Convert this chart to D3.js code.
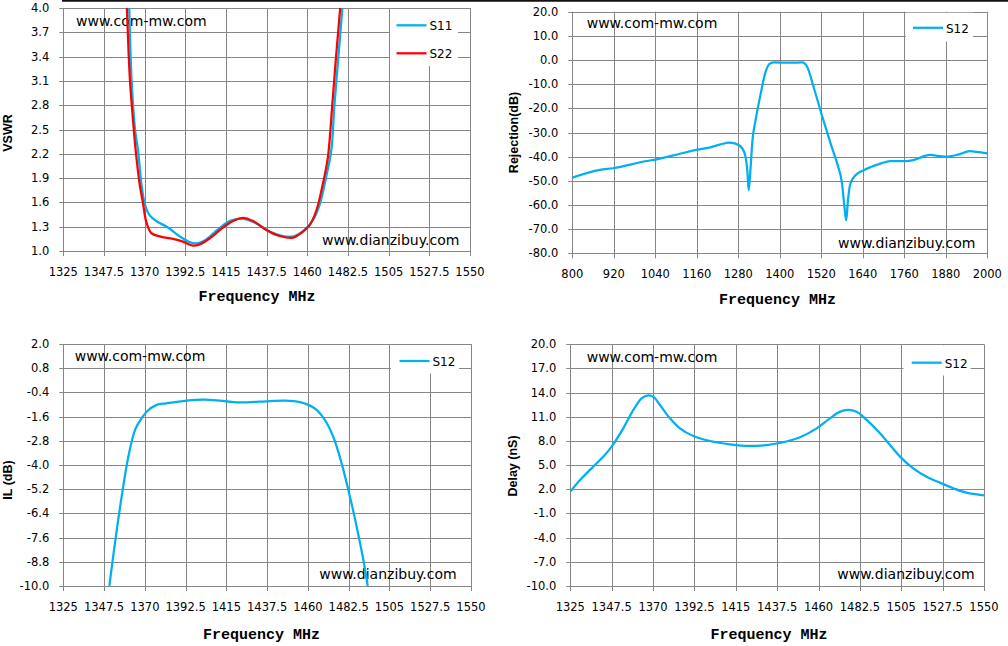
<!DOCTYPE html>
<html>
<head>
<meta charset="utf-8">
<script src="https://cdn.jsdelivr.net/npm/d3@7/dist/d3.min.js"></script>
<style>
  html, body { margin: 0; padding: 0; background: #fff; }
  svg { display: block; }
</style>
</head>
<body>
<div id="chart"></div>
<script>
// ---- data ----
const bandTicks = [1325, 1347.5, 1370, 1392.5, 1415, 1437.5, 1460, 1482.5, 1505, 1527.5, 1550];
const wideTicks = [800, 920, 1040, 1160, 1280, 1400, 1520, 1640, 1760, 1880, 2000];
const vswrTicks = [1.0, 1.3, 1.6, 1.9, 2.2, 2.5, 2.8, 3.1, 3.4, 3.7, 4.0];
const rejTicks = [20, 10, 0, -10, -20, -30, -40, -50, -60, -70, -80];
const ilTicks = [2.0, 0.8, -0.4, -1.6, -2.8, -4.0, -5.2, -6.4, -7.6, -8.8, -10.0];
const delayTicks = [20, 17, 14, 11, 8, 5, 2, -1, -4, -7, -10];

// VSWR [MHz, ratio]
const vswrS11 = [
  [1361.5, 4.0], [1362.8, 3.1], [1364.7, 2.5], [1366.3, 2.25], [1368.2, 1.83],
  [1370, 1.59], [1372.5, 1.45], [1376.5, 1.37], [1382.9, 1.29], [1389.4, 1.18],
  [1394.9, 1.11], [1398.6, 1.095], [1403.2, 1.13], [1409.7, 1.25], [1417, 1.37],
  [1424.4, 1.40], [1431.8, 1.34], [1439.2, 1.24], [1446.5, 1.185], [1453, 1.185],
  [1458.5, 1.26], [1463.1, 1.38], [1466.8, 1.57], [1470.5, 1.92], [1473.3, 2.25],
  [1475, 2.8], [1477.2, 3.4], [1479.4, 4.0]
];
const vswrS22 = [
  [1360.2, 4.0], [1361.9, 3.1], [1364, 2.5], [1365, 2.25], [1367.2, 1.83],
  [1369.1, 1.59], [1370.9, 1.36], [1373.7, 1.22], [1378.3, 1.18], [1385.7, 1.15],
  [1391.2, 1.115], [1396.7, 1.066], [1400.4, 1.08], [1406, 1.156], [1413.3, 1.29],
  [1418.9, 1.37], [1424.4, 1.41], [1430, 1.37], [1437.3, 1.26], [1444.7, 1.185],
  [1452.1, 1.164], [1457.6, 1.24], [1461.3, 1.32], [1465, 1.50], [1468.6, 1.83],
  [1471.4, 2.16], [1473.8, 2.8], [1475.9, 3.4], [1478.2, 4.0]
];

// Rejection S12 [MHz, dB]
const rejS12 = [
  [800, -48.7], [880, -45.5], [918, -44.8], [1015, -41.8], [1044, -41.1],
  [1114, -38.7], [1162, -37.1], [1191, -36.4], [1229, -34.9], [1253, -34.2],
  [1272, -34.6], [1292, -36.7], [1301, -40.1], [1306, -45.6], [1310, -53.9],
  [1315, -45.6], [1321, -33.2], [1330, -24.9], [1345, -13.8], [1359, -4.8],
  [1372, -1.4], [1383, -1.0], [1431, -1.1], [1465, -1.0], [1479, -2.8],
  [1499, -11.8], [1523, -23.5], [1547, -34.6], [1566, -42.9], [1580, -51.2],
  [1587, -60.9], [1592, -66.4], [1597, -58.1], [1604, -51.2], [1619, -47.7],
  [1643, -45.6], [1691, -42.9], [1719, -41.8], [1767, -41.8], [1786, -41.4],
  [1834, -39.3], [1878, -40.0], [1912, -39.3], [1950, -37.7], [1969, -38.0],
  [2000, -38.6]
];

// Insertion loss S12 [MHz, dB]
const ilS12 = [
  [1350.4, -10.0], [1353.5, -7.88], [1357.2, -5.57], [1360.9, -3.59], [1364.6, -2.26],
  [1368.2, -1.69], [1371, -1.36], [1376.5, -1.02], [1382, -0.94], [1393.1, -0.81],
  [1402.3, -0.76], [1409.6, -0.79], [1418.8, -0.88], [1426.2, -0.89], [1437.2, -0.84],
  [1446.4, -0.81], [1452, -0.83], [1459.3, -0.98], [1464.8, -1.27], [1469.4, -1.77],
  [1474, -2.6], [1478.6, -3.92], [1483.2, -5.57], [1486.9, -7.06], [1490.6, -8.71],
  [1493, -10.0]
];

// Group delay S12 [MHz, nS]
const delayS12 = [
  [1325, 1.71], [1330.3, 3.16], [1337.5, 4.82], [1343, 6.06], [1347.5, 7.3],
  [1353.8, 9.57], [1359.3, 11.85], [1363.8, 13.3], [1367.4, 13.67], [1370.1, 13.5],
  [1373.8, 12.47], [1379.2, 10.81], [1384.6, 9.57], [1391.9, 8.62], [1401, 8.0],
  [1411.8, 7.59], [1422.7, 7.38], [1431.8, 7.5], [1440.8, 7.84], [1449.9, 8.46],
  [1459, 9.57], [1466.2, 10.81], [1471.7, 11.64], [1476.2, 11.85], [1480.7, 11.64],
  [1486.2, 10.61], [1493.4, 8.95], [1498.9, 7.5], [1504.3, 6.06], [1511.5, 4.61],
  [1518.8, 3.57], [1526, 2.83], [1533.3, 2.13], [1540.5, 1.59], [1550, 1.26]
];

const BLUE = "#00b0f0";
const RED = "#ff0000";
const GRID = "#868686";
const TICK_FONT = "'DejaVu Sans', sans-serif";

const svg = d3
  .select("#chart")
  .append("svg")
  .attr("width", 1008)
  .attr("height", 646);

// thin dark rule along the top of the picture
svg
  .append("line")
  .attr("x1", 62)
  .attr("x2", 1008)
  .attr("y1", 0.8)
  .attr("y2", 0.8)
  .attr("stroke", "#111")
  .attr("stroke-width", 1.8);

function drawPanel(p, idx) {
  const x = d3.scaleLinear().domain(p.xDomain).range([p.x0, p.x1]);
  const y = d3.scaleLinear().domain(p.yDomain).range([p.y1, p.y0]);
  const g = svg.append("g");

  // grid + tick marks
  g.selectAll(".vgrid")
    .data(p.xTicks)
    .join("line")
    .attr("x1", (d) => Math.round(x(d)) + 0.5)
    .attr("x2", (d) => Math.round(x(d)) + 0.5)
    .attr("y1", p.y0)
    .attr("y2", p.y1 + 5)
    .attr("stroke", GRID)
    .attr("stroke-width", 1);
  g.selectAll(".hgrid")
    .data(p.yTicks)
    .join("line")
    .attr("x1", p.x0 - 4)
    .attr("x2", p.x1)
    .attr("y1", (d) => Math.round(y(d)) + 0.5)
    .attr("y2", (d) => Math.round(y(d)) + 0.5)
    .attr("stroke", GRID)
    .attr("stroke-width", 1);

  // legend box hides the grid behind it
  g.append("rect")
    .attr("x", p.legend.x0)
    .attr("y", p.y0 + 1)
    .attr("width", p.legend.x1 - p.legend.x0)
    .attr("height", p.legend.y1 - p.y0 - 1)
    .attr("fill", "#fff");

  // tick labels
  g.selectAll(".xl")
    .data(p.xTicks)
    .join("text")
    .attr("x", (d) => x(d))
    .attr("y", p.y1 + 20.5)
    .attr("text-anchor", "middle")
    .attr("dominant-baseline", "central")
    .style("font-family", TICK_FONT)
    .style("font-size", "11.5px")
    .text((d) => String(d));
  g.selectAll(".yl")
    .data(p.yTicks)
    .join("text")
    .attr("x", p.x0 - 14)
    .attr("y", (d) => y(d))
    .attr("text-anchor", "end")
    .attr("dominant-baseline", "central")
    .style("font-family", TICK_FONT)
    .style("font-size", "11.5px")
    .text((d) => d.toFixed(1));

  // axis titles
  g.append("text")
    .attr("x", p.xTitle[0])
    .attr("y", p.xTitle[1])
    .attr("text-anchor", "middle")
    .attr("dominant-baseline", "central")
    .style("font-family", "'Liberation Mono', monospace")
    .style("font-weight", "bold")
    .style("font-size", "15px")
    .text("Frequency MHz");
  g.append("text")
    .attr(
      "transform",
      `translate(${p.yTitle[0]}, ${p.yTitle[1]}) rotate(-90)`
    )
    .attr("text-anchor", "middle")
    .attr("dominant-baseline", "central")
    .style("font-family", "'Liberation Sans', Arial, sans-serif")
    .style("font-weight", "bold")
    .style("font-size", "12.5px")
    .text(p.yLabel);

  // watermarks
  g.append("text")
    .attr("x", p.wmTop[0])
    .attr("y", p.wmTop[1])
    .style("font-family", TICK_FONT)
    .style("font-size", "14px")
    .text("www.com-mw.com");
  g.append("text")
    .attr("x", p.wmBottom[0])
    .attr("y", p.wmBottom[1])
    .style("font-family", TICK_FONT)
    .style("font-size", "14px")
    .text("www.dianzibuy.com");

  // curves
  const clipId = `clip${idx}`;
  svg
    .append("clipPath")
    .attr("id", clipId)
    .append("rect")
    .attr("x", p.x0)
    .attr("y", p.y0)
    .attr("width", p.x1 - p.x0)
    .attr("height", p.y1 - p.y0);

  const line = d3
    .line()
    .x((d) => x(d[0]))
    .y((d) => y(d[1]))
    .curve(p.curve);

  p.series.forEach((s) => {
    g.append("path")
      .datum(s.data)
      .attr("clip-path", `url(#${clipId})`)
      .attr("fill", "none")
      .attr("stroke", s.color)
      .attr("stroke-width", 2.25)
      .attr("stroke-linejoin", "round")
      .attr("d", line);
  });

  // legend entries
  p.series.forEach((s, i) => {
    const ly = p.legend.lineY + i * 28;
    g.append("line")
      .attr("x1", p.legend.lx0)
      .attr("x2", p.legend.lx0 + 30)
      .attr("y1", ly)
      .attr("y2", ly)
      .attr("stroke", s.color)
      .attr("stroke-width", 2.25);
    g.append("text")
      .attr("x", p.legend.lx0 + 33)
      .attr("y", ly + 1)
      .attr("dominant-baseline", "central")
      .style("font-family", TICK_FONT)
      .style("font-size", "12px")
      .text(s.name);
  });
}

const smooth = d3.curveCatmullRom.alpha(0.5);

const panels = [
  {
    x0: 63.3, x1: 470, y0: 8, y1: 251,
    xDomain: [1325, 1550], xTicks: bandTicks,
    yDomain: [1, 4], yTicks: vswrTicks, curve: smooth,
    yLabel: "VSWR", yTitle: [7.5, 133], xTitle: [257, 297.5],
    wmTop: [76, 26], wmBottom: [322, 245],
    legend: { x0: 390, x1: 458, y1: 66, lineY: 25.3, lx0: 396.5 },
    series: [
      { name: "S11", color: BLUE, data: vswrS11 },
      { name: "S22", color: RED, data: vswrS22 },
    ],
  },
  {
    x0: 572.3, x1: 987.3, y0: 11.7, y1: 253.3,
    xDomain: [800, 2000], xTicks: wideTicks,
    yDomain: [-80, 20], yTicks: rejTicks, curve: d3.curveMonotoneX,
    yLabel: "Rejection(dB)", yTitle: [514, 132.5], xTitle: [777.5, 300],
    wmTop: [586.7, 28.3], wmBottom: [838, 248.3],
    legend: { x0: 906, x1: 973, y1: 41.5, lineY: 27.8, lx0: 913 },
    series: [{ name: "S12", color: BLUE, data: rejS12 }],
  },
  {
    x0: 63.3, x1: 471, y0: 344, y1: 586,
    xDomain: [1325, 1550], xTicks: bandTicks,
    yDomain: [-10, 2], yTicks: ilTicks, curve: smooth,
    yLabel: "IL (dB)", yTitle: [8, 480], xTitle: [261.5, 635],
    wmTop: [74.7, 360.7], wmBottom: [319.3, 579.3],
    legend: { x0: 391, x1: 459, y1: 373.5, lineY: 361, lx0: 399.5 },
    series: [{ name: "S12", color: BLUE, data: ilS12 }],
  },
  {
    x0: 570.3, x1: 984, y0: 344.3, y1: 586,
    xDomain: [1325, 1550], xTicks: bandTicks,
    yDomain: [-10, 20], yTicks: delayTicks, curve: smooth,
    yLabel: "Delay (nS)", yTitle: [513, 466], xTitle: [769, 635],
    wmTop: [586.7, 362], wmBottom: [837.3, 579],
    legend: { x0: 903.5, x1: 970.5, y1: 375.5, lineY: 362.7, lx0: 911.7 },
    series: [{ name: "S12", color: BLUE, data: delayS12 }],
  },
];

panels.forEach((p, i) => drawPanel(p, i));
</script>
</body>
</html>
